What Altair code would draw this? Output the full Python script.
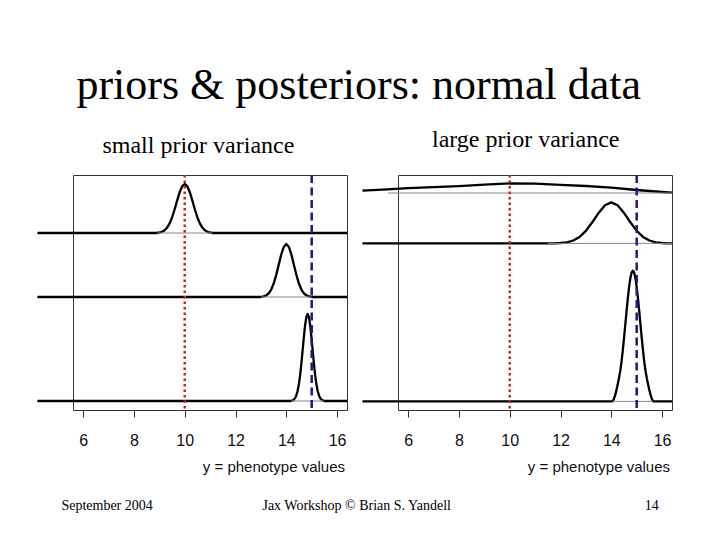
import altair as alt
import pandas as pd

# ---------------- data ----------------
x_domain = [5.6, 16.39]
x_line_start = 4.2
tick_values = [6, 8, 10, 12, 14, 16]
prior_mean = 10
data_mean = 15

left_baselines = [177, 113, 9]
right_baselines = [217, 166.6, 8.6]
# x-extent of the thin grey base rule under each curve
left_base_ranges = [(8.9, 11.1), (13.0, 15.0), (14.19, 15.49)]
right_base_ranges = [(5.2, 16.39), (11.5, 16.39), (14.05, 15.65)]

L_prior_x = [8.9, 9.0, 9.1, 9.2, 9.3, 9.4, 9.5, 9.6, 9.7, 9.8, 9.9, 10.0,
             10.1, 10.2, 10.3, 10.4, 10.5, 10.6, 10.7, 10.8, 10.9, 11.0, 11.1]
L_prior_h = [0, 0.5, 1.2, 2.6, 5.2, 9.4, 15.5, 23.5, 32.4, 40.8, 46.8, 49.0,
             46.8, 40.8, 32.4, 23.5, 15.5, 9.4, 5.2, 2.6, 1.2, 0.5, 0]

L_data_x = [13.0, 13.1, 13.2, 13.3, 13.4, 13.5, 13.6, 13.7, 13.8, 13.9, 14.0,
            14.1, 14.2, 14.3, 14.4, 14.5, 14.6, 14.7, 14.8, 14.9, 15.0]
L_data_h = [0, 0.6, 1.5, 3.5, 7.2, 13.2, 21.8, 32.1, 42.5, 50.1, 53.0,
            50.1, 42.5, 32.1, 21.8, 13.2, 7.2, 3.5, 1.5, 0.6, 0]

L_post_x = [14.19, 14.24, 14.29, 14.34, 14.39, 14.44, 14.49, 14.54, 14.59, 14.64,
            14.69, 14.74, 14.79, 14.84, 14.89, 14.94, 14.99, 15.04, 15.09, 15.14,
            15.19, 15.24, 15.29, 15.34, 15.39, 15.44, 15.49]
L_post_h = [0, 0.6, 1.3, 2.7, 5.3, 9.5, 15.9, 25.0, 36.6, 50.0,
            63.7, 75.8, 84.0, 87.0, 84.0, 75.8, 63.7, 50.0, 36.6, 25.0,
            15.9, 9.5, 5.3, 2.7, 1.3, 0.6, 0]

R_prior_x = [4.2, 5.0, 6.0, 7.0, 8.0, 9.0, 10.0, 11.0, 12.0, 13.0, 14.0, 15.0, 16.0, 16.39]
R_prior_h = [2.3, 3.3, 4.8, 5.8, 6.8, 8.3, 9.6, 9.3, 8.2, 7.0, 5.3, 3.0, 1.0, 0.3]

R_data_x = [11.5, 11.75, 12.0, 12.25, 12.5, 12.75, 13.0, 13.25, 13.5, 13.75, 14.0,
            14.25, 14.5, 14.75, 15.0, 15.25, 15.5, 15.75, 16.0, 16.25, 16.39]
R_data_h = [0, 0.1, 0.4, 1.1, 2.9, 6.5, 12.6, 21.1, 30.5, 38.1, 41.0,
            38.1, 30.5, 21.1, 12.6, 6.5, 2.9, 1.1, 0.4, 0.1, 0]

R_post_x = [14.05, 14.10, 14.15, 14.20, 14.25, 14.30, 14.35, 14.40, 14.45, 14.50, 14.55,
            14.60, 14.65, 14.70, 14.75, 14.80, 14.85, 14.90, 14.95, 15.00, 15.05, 15.10,
            15.15, 15.20, 15.25, 15.30, 15.35, 15.40, 15.45, 15.50, 15.55, 15.60, 15.65]
R_post_h = [0, 2.5, 6, 11, 17, 23, 30, 39.2, 50.5, 63.1, 76.6,
            90.1, 103.0, 114.3, 123.2, 128.8, 130.7, 128.8, 123.2, 114.3, 103.0, 90.1,
            76.6, 63.1, 50.5, 39.2, 30, 23, 17, 11, 6, 2.5, 0]

title_text = "priors & posteriors: normal data"
left_subtitle = "small prior variance"
right_subtitle = "large prior variance"
axis_title = "y = phenotype values"
footer_left = "September 2004"
footer_mid = "Jax Workshop \u00a9 Brian S. Yandell"
footer_right = "14"

W, H = 274, 235
SERIF = "Liberation Serif"
SANS = "Liberation Sans"


def curve_frame(curves, baselines):
    rows = []
    for name, (xs, hs), b in zip(["prior", "data", "posterior"], curves, baselines):
        pts = list(zip(xs, hs))
        if xs[0] > x_line_start:
            pts = [(x_line_start, 0)] + pts
        if xs[-1] < x_domain[1]:
            pts = pts + [(x_domain[1], 0)]
        for i, (x, h) in enumerate(pts):
            rows.append({"curve": name, "x": x, "y": b + h, "i": i})
    return pd.DataFrame(rows)


def text_layer(text, x, y, font, size, align="center", color="black"):
    return alt.Chart(pd.DataFrame({"t": [text]})).mark_text(
        font=font, fontSize=size, align=align, baseline="alphabetic", color=color
    ).encode(text="t:N", x=alt.value(x), y=alt.value(y))


def panel(curves, baselines, base_ranges, extra):
    df = curve_frame(curves, baselines)
    xenc = alt.X(
        "x:Q",
        scale=alt.Scale(domain=x_domain, nice=False, zero=False),
        axis=alt.Axis(
            values=tick_values, title=None, domain=False, grid=False,
            tickSize=7, tickColor="#333", tickWidth=1,
            labelFont=SANS, labelFontSize=16, labelColor="#111",
            labelPadding=15, format="d",
        ),
    )
    yenc = alt.Y("y:Q", scale=alt.Scale(domain=[0, H], nice=False, zero=False), axis=None)
    lines = alt.Chart(df).mark_line(color="black", strokeWidth=2.3, strokeJoin="round").encode(
        x=xenc, y=yenc, detail="curve:N", order="i:Q"
    )
    bdf = pd.DataFrame({
        "x": [r[0] for r in base_ranges],
        "x1": [r[1] for r in base_ranges],
        "y": baselines,
    })
    grey = alt.Chart(bdf).mark_rule(color="#888", strokeWidth=1).encode(
        x="x:Q", x2="x1:Q", y="y:Q"
    )
    red = alt.Chart(pd.DataFrame({"x": [prior_mean]})).mark_rule(
        color="#d0202e", strokeWidth=2.5, strokeDash=[2.5, 3]
    ).encode(x="x:Q")
    blue = alt.Chart(pd.DataFrame({"x": [data_mean]})).mark_rule(
        color="#1a1a8a", strokeWidth=2.5, strokeDash=[8, 4.5]
    ).encode(x="x:Q")
    atitle = text_layer(axis_title, W - 2, 297, SANS, 15, align="right", color="#111")
    return alt.layer(lines, grey, red, blue, atitle, *extra).properties(width=W, height=H)


left = panel(
    [(L_prior_x, L_prior_h), (L_data_x, L_data_h), (L_post_x, L_post_h)],
    left_baselines,
    left_base_ranges,
    [
        text_layer(title_text, 285.7, -75.7, SERIF, 44),
        text_layer(left_subtitle, 125.4, -22.3, SERIF, 24),
        text_layer(footer_left, -11.6, 334.7, SERIF, 14, align="left"),
        text_layer(footer_mid, 283.7, 334.7, SERIF, 14),
        text_layer(footer_right, 585.7, 334.7, SERIF, 14, align="right"),
    ],
)
right = panel(
    [(R_prior_x, R_prior_h), (R_data_x, R_data_h), (R_post_x, R_post_h)],
    right_baselines,
    right_base_ranges,
    [text_layer(right_subtitle, 127.7, -28, SERIF, 24)],
)

chart = (
    alt.hconcat(left, right, spacing=51, bounds="flush")
    .properties(padding={"left": 27, "top": 55, "right": 0, "bottom": 0}, background="white")
    .configure_view(stroke="#333", strokeWidth=1)
)

chart.save("out.html", embed_options={"renderer": "svg", "actions": False})
